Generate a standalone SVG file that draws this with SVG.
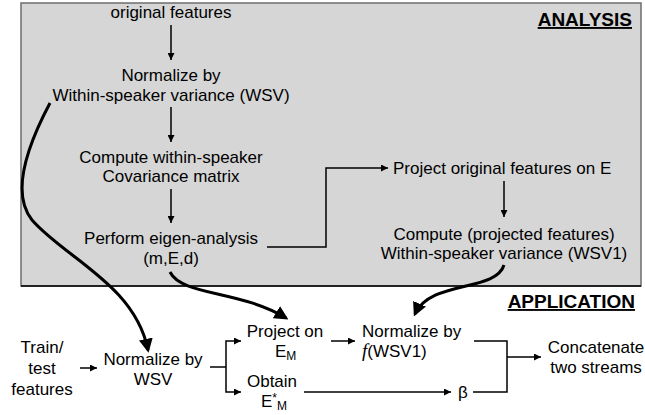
<svg xmlns="http://www.w3.org/2000/svg" width="645" height="415" viewBox="0 0 645 415">
<style>
text{font-family:"Liberation Sans",Arial,sans-serif;font-size:17px;fill:#000}
.c{text-anchor:middle}
.h{font-weight:bold;font-size:19px;text-decoration:underline}
.ln{fill:none;stroke:#000;stroke-width:1.5}
.cv{fill:none;stroke:#000;stroke-width:3}
</style>
<defs>
<marker id="a" viewBox="0 0 10 10" refX="10" refY="5" markerWidth="7" markerHeight="7" markerUnits="userSpaceOnUse" orient="auto"><path d="M0,0L10,5L0,10z" fill="#000"/></marker>
<marker id="b" viewBox="0 0 10 10" refX="8" refY="5" markerWidth="14" markerHeight="14" markerUnits="userSpaceOnUse" orient="auto"><path d="M0,0L10,5L0,10z" fill="#000"/></marker>
</defs>
<g id="analysis-box">
<rect x="21" y="3" width="620" height="283" fill="#d6d6d6" stroke="#6e6e6e" stroke-width="1.5"/>
<line x1="21" y1="286" x2="641" y2="286" stroke="#000" stroke-width="1.5"/>
<text class="h" x="632" y="26" text-anchor="end">ANALYSIS</text>
</g>
<g id="orig"><text class="c" x="171" y="18">original features</text></g>
<g id="norm-wsv"><text class="c" x="171" y="81">Normalize by</text><text class="c" x="171" y="101">Within-speaker variance (WSV)</text></g>
<g id="cov"><text class="c" x="171" y="163">Compute within-speaker</text><text class="c" x="171" y="182">Covariance matrix</text></g>
<g id="eigen"><text class="c" x="171" y="244">Perform eigen-analysis</text><text class="c" x="171" y="264">(m,E,d)</text></g>
<g id="proj-orig"><text x="393" y="174">Project original features on E</text></g>
<g id="wsv1"><text class="c" x="504" y="240">Compute (projected features)</text><text class="c" x="504" y="259">Within-speaker variance (WSV1)</text></g>
<g id="app-label"><text class="h" x="635" y="308" text-anchor="end">APPLICATION</text></g>
<g id="train"><text class="c" x="42" y="353">Train/</text><text class="c" x="42" y="374">test</text><text class="c" x="42" y="395">features</text></g>
<g id="norm-bottom"><text class="c" x="153" y="365">Normalize by</text><text class="c" x="153" y="385">WSV</text></g>
<g id="project-em"><text class="c" x="285" y="337">Project on</text><text x="275" y="357">E<tspan font-size="12" dy="3">M</tspan></text></g>
<g id="obtain"><text class="c" x="272" y="387">Obtain</text><text x="261" y="407">E<tspan font-size="12" dy="-5">*</tspan><tspan font-size="12" dy="8">M</tspan></text></g>
<g id="norm-f"><text x="362" y="337">Normalize by</text><text x="362" y="357"><tspan font-family="'Liberation Serif',serif" font-style="italic" font-size="19">f</tspan>(WSV1)</text></g>
<g id="beta"><text x="458" y="398" font-family="'Liberation Serif',serif">β</text></g>
<g id="concat"><text class="c" x="596" y="353">Concatenate</text><text class="c" x="596" y="373">two streams</text></g>
<g id="connectors">
<line class="ln" x1="171" y1="25" x2="171" y2="60" marker-end="url(#a)"/>
<line class="ln" x1="171" y1="107" x2="171" y2="142" marker-end="url(#a)"/>
<line class="ln" x1="171" y1="189" x2="171" y2="223" marker-end="url(#a)"/>
<polyline class="ln" points="267,247 326,247 326,168 388,168" marker-end="url(#a)"/>
<line class="ln" x1="504" y1="181" x2="504" y2="217" marker-end="url(#a)"/>
<line class="ln" x1="80" y1="368" x2="97" y2="368" marker-end="url(#a)"/>
<polyline class="ln" points="210,367 226,367"/>
<polyline class="ln" points="226,367 226,341 241,341" marker-end="url(#a)"/>
<polyline class="ln" points="226,367 226,392 241,392" marker-end="url(#a)"/>
<line class="ln" x1="331" y1="341" x2="355" y2="341" marker-end="url(#a)"/>
<line class="ln" x1="304" y1="392" x2="451" y2="392" marker-end="url(#a)"/>
<polyline class="ln" points="473,392 507,392 507,341 474,341"/>
<line class="ln" x1="507" y1="357" x2="541" y2="357" marker-end="url(#a)"/>
<path class="cv" d="M50,103 C25,150 12,195 32,220 C65,258 135,285 148,350" marker-end="url(#b)"/>
<path class="cv" d="M170,272 C182,296 240,290 286,318" marker-end="url(#b)"/>
<path class="cv" d="M504,265 C496,292 430,280 415,314" marker-end="url(#b)"/>
</g>
</svg>
